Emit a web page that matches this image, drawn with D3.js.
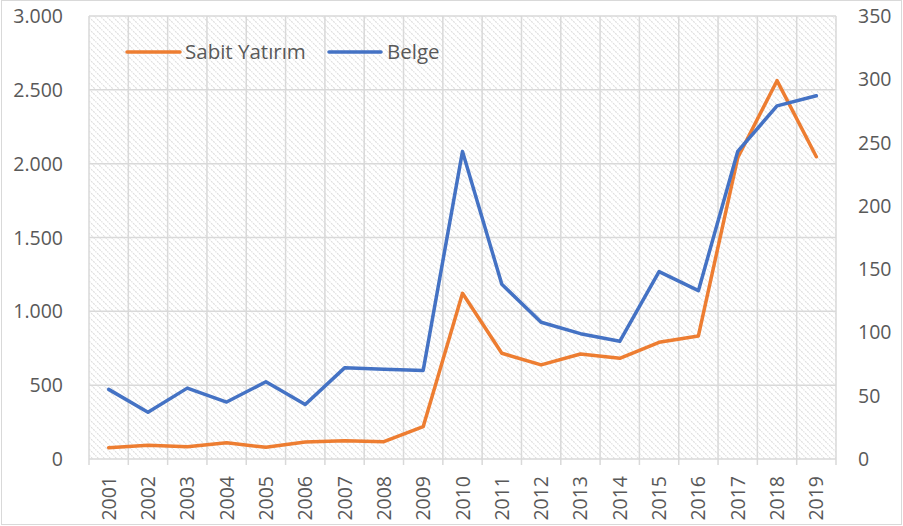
<!DOCTYPE html>
<html><head><meta charset="utf-8">
<script src="https://cdn.jsdelivr.net/npm/d3@7"></script>
<style>html,body{margin:0;padding:0;background:#fff;}svg{display:block;font-family:"Open Sans",sans-serif;}</style>
</head><body><svg id="c" width="903" height="526"></svg>
<script>
const years = ["2001","2002","2003","2004","2005","2006","2007","2008","2009","2010","2011","2012","2013","2014","2015","2016","2017","2018","2019"];
const sabitYatirim = [77,93,83,110,79,115,124,117,219,1122,716,637,711,682,790,833,2040,2562,2047];
const belge = [55,37,56,45,61,43,72,71,70,243,138,108,99,93,148,133,243,279,287];
const leftTicks = [0,500,1000,1500,2000,2500,3000];
const rightTicks = [0,50,100,150,200,250,300,350];
const seriesNames = ["Sabit Yatırım","Belge"];
const colors = ["#ED7D31","#4472C4"];

const svg = d3.select("#c");
const L=89,R=836,T=16,B=459;
const x = d3.scaleBand().domain(years).range([L,R]);
const yL = d3.scaleLinear().domain([0,3000]).range([B,T]);
const yR = d3.scaleLinear().domain([0,350]).range([B,T]);
const fmt = d3.formatLocale({decimal:",",thousands:".",grouping:[3]}).format(",");

svg.append("rect").attr("x",1.5).attr("y",0.5).attr("width",900).attr("height",524).attr("fill","#fff").attr("stroke","#d9d9d9");

const defs = svg.append("defs");
const pat = defs.append("pattern").attr("id","hatch").attr("width",6).attr("height",6).attr("patternUnits","userSpaceOnUse");
pat.append("rect").attr("width",6).attr("height",6).attr("fill","#fff");
pat.append("path").attr("d","M-1,-1 L7,7 M-1,5 L1,7 M5,-1 L7,1").attr("stroke","#dedede").attr("stroke-width",1.1).attr("stroke-dasharray","2,1");
svg.append("rect").attr("x",L).attr("y",T).attr("width",R-L).attr("height",B-T).attr("fill","url(#hatch)");

// gridlines
const g = svg.append("g").attr("stroke","#d9d9d9").attr("stroke-width",1.5);
g.selectAll("line.h").data(leftTicks).join("line").attr("x1",L).attr("x2",R).attr("y1",d=>yL(d)).attr("y2",d=>yL(d));
const edges = years.map(d=>x(d)).concat([R]);
g.selectAll("line.v").data(edges).join("line").attr("x1",d=>d).attr("x2",d=>d).attr("y1",T).attr("y2",B+6);

// axes labels
const txtCol = "#595959";
svg.append("g").selectAll("text").data(leftTicks).join("text")
  .attr("x",63).attr("y",d=>yL(d)).attr("dy","0.36em").attr("text-anchor","end")
  .attr("font-size",19.5).attr("fill",txtCol).text(d=>fmt(d));
svg.append("g").selectAll("text").data(rightTicks).join("text")
  .attr("x",858).attr("y",d=>yR(d)).attr("dy","0.36em").attr("text-anchor","start")
  .attr("font-size",19.5).attr("fill",txtCol).text(d=>d);
svg.append("g").selectAll("text").data(years).join("text")
  .attr("transform",d=>`translate(${x(d)+x.bandwidth()/2},476) rotate(-90)`)
  .attr("dy","0.36em").attr("text-anchor","end")
  .attr("font-size",19.5).attr("fill",txtCol).text(d=>d);

// lines
const cx = d=>x(d)+x.bandwidth()/2;
const lineL = d3.line().x((d,i)=>cx(years[i])).y(d=>yL(d));
const lineR = d3.line().x((d,i)=>cx(years[i])).y(d=>yR(d));
svg.append("path").datum(sabitYatirim).attr("d",lineL).attr("fill","none").attr("stroke",colors[0]).attr("stroke-width",3.5).attr("stroke-linejoin","round").attr("stroke-linecap","round");
svg.append("path").datum(belge).attr("d",lineR).attr("fill","none").attr("stroke",colors[1]).attr("stroke-width",3.5).attr("stroke-linejoin","round").attr("stroke-linecap","round");

// legend
const leg = [{x1:127,x2:180,tx:185},{x1:329,x2:381,tx:387}];
leg.forEach((l,i)=>{
  svg.append("line").attr("x1",l.x1).attr("x2",l.x2).attr("y1",52).attr("y2",52).attr("stroke",colors[i]).attr("stroke-width",3.5).attr("stroke-linecap","round");
  svg.append("text").attr("x",l.tx).attr("y",52).attr("dy","0.36em").attr("font-size",20.5).attr("fill",txtCol).text(seriesNames[i]);
});
</script></body></html>
